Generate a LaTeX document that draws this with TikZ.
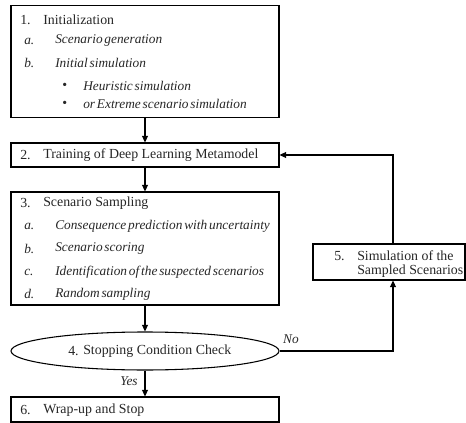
\documentclass[tikz,border=0pt]{standalone}
\usepackage{fontspec}
\setmainfont[ItalicFeatures={WordSpace=0.55}]{Liberation Serif}
\usetikzlibrary{arrows.meta,shapes.geometric}
\begin{document}
\begin{tikzpicture}[x=0.75pt,y=-0.75pt,
  boxstyle/.style={draw=black,line width=0.8pt},
  txt/.style={anchor=west,inner sep=0pt,font=\fontsize{10.4}{12}\selectfont,text=black!85},
  itxt/.style={txt,font=\fontsize{10}{12}\selectfont\itshape},
  lbl/.style={inner sep=0pt,font=\fontsize{10}{12}\selectfont\itshape,text=black!85},
  conn/.style={draw=black,line width=0.8pt,-{Triangle[length=5pt,width=4.5pt]}}]
\useasboundingbox (0,0) rectangle (466,423);
% boxes
\node[boxstyle,rectangle,minimum width=268*0.75pt,minimum height=112*0.75pt,inner sep=0pt] (b1) at (145,61.5) {};
\node[boxstyle,rectangle,minimum width=268*0.75pt,minimum height=24*0.75pt,inner sep=0pt] (b2) at (145,155) {};
\node[boxstyle,rectangle,minimum width=268*0.75pt,minimum height=113*0.75pt,inner sep=0pt] (b3) at (145,248.5) {};
\node[boxstyle,ellipse,minimum width=268*0.75pt,minimum height=38*0.75pt,inner sep=0pt] (b4) at (145,351) {};
\node[boxstyle,rectangle,minimum width=152*0.75pt,minimum height=36*0.75pt,inner sep=0pt] (b5) at (389,262) {};
\node[boxstyle,rectangle,minimum width=268*0.75pt,minimum height=25*0.75pt,inner sep=0pt] (b6) at (145,409.5) {};
% box 1 text
\node[txt] (t1n) at (20,20) {1.};
\node[txt] (t1) at (43,20) {Initialization};
\node[itxt] (t1an) at (24,41) {a.};
\node[itxt] (t1a) at (55,41) {Scenario generation};
\node[itxt] (t1bn) at (24,63) {b.};
\node[itxt] (t1b) at (55,63) {Initial simulation};
\node[txt] (t1b1n) at (62,86) {•};
\node[itxt] (t1b1) at (83,86) {Heuristic simulation};
\node[txt] (t1b2n) at (62,104) {•};
\node[itxt] (t1b2) at (83,104) {or Extreme scenario simulation};
% box 2
\node[txt] (t2n) at (20,155) {2.};
\node[txt] (t2) at (43,155) {Training of Deep Learning Metamodel};
% box 3
\node[txt] (t3n) at (20,203) {3.};
\node[txt] (t3) at (43,203) {Scenario Sampling};
\node[itxt] (t3an) at (24,226) {a.};
\node[itxt] (t3a) at (55,226) {Consequence prediction with uncertainty};
\node[itxt] (t3bn) at (24,249) {b.};
\node[itxt] (t3b) at (55,249) {Scenario scoring};
\node[itxt] (t3cn) at (24,272) {c.};
\node[itxt] (t3c) at (55,272) {Identification of the suspected scenarios};
\node[itxt] (t3dn) at (24,294) {d.};
\node[itxt] (t3d) at (55,294) {Random sampling};
% ellipse
\node[txt] (t4n) at (68,351) {4.};
\node[txt] (t4) at (83,351) {Stopping Condition Check};
% box 5
\node[txt] (t5n) at (334,256) {5.};
\node[txt] (t5) at (357,256) {Simulation of the};
\node[txt] (t5b) at (357,271) {Sampled Scenarios};
% box 6
\node[txt] (t6n) at (20,410) {6.};
\node[txt] (t6) at (43,410) {Wrap-up and Stop};
% labels
\node[lbl] (yes) at (129,381) {Yes};
\node[lbl] (no) at (291,339) {No};
% connectors
\draw[conn] (b1.south) -- (b2.north);
\draw[conn] (b2.south) -- (b3.north);
\draw[conn] (b3.south) -- (b4.north);
\draw[conn] (b4.south) -- (b6.north);
\coordinate (c1) at (393,351);
\draw[conn] (b4.east) -- (c1) -- (c1 |- b5.south);
\coordinate (c2) at (393,155);
\draw[conn] (c2 |- b5.north) -- (c2) -- (b2.east);
\end{tikzpicture}
\end{document}
